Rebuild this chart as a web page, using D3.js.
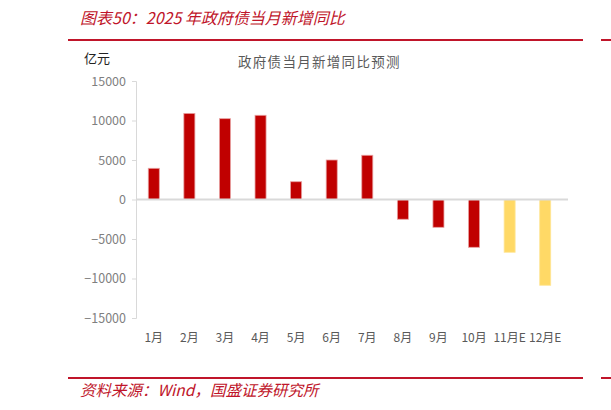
<!DOCTYPE html>
<html>
<head>
<meta charset="utf-8">
<script src="https://cdn.jsdelivr.net/npm/d3@7"></script>
<style>
	body { margin: 0; background: #fff; }
	svg text { font-family: "Noto Sans CJK SC", "Liberation Sans", sans-serif; }
</style>
</head>
<body>
<svg width="611" height="410"></svg>
<script>
// data
let months = ["1月","2月","3月","4月","5月","6月","7月","8月","9月","10月","11月E","12月E"];
let values = [3950, 10900, 10230, 10660, 2250, 5000, 5600, -2500, -3520, -6050, -6680, -10860];
let forecast = [false,false,false,false,false,false,false,false,false,false,true,true];
let yTicks = [15000, 10000, 5000, 0, -5000, -10000, -15000];

let svg = d3.select("svg");
let red = "#c00000", yellow = "#ffd966", grey = "#7f7f7f";

// header
svg.append("text")
	.attr("x", 80).attr("y", 24)
	.attr("font-size", 16).attr("font-style", "italic")
	.attr("fill", "#c0152a")
	.text("图表50：2025 年政府债当月新增同比");
svg.append("rect").attr("x", 68).attr("y", 39).attr("width", 515).attr("height", 2).attr("fill", "#c0152a");
svg.append("rect").attr("x", 601).attr("y", 39).attr("width", 10).attr("height", 2).attr("fill", "#c0152a");

// footer
svg.append("rect").attr("x", 68).attr("y", 377).attr("width", 515).attr("height", 2).attr("fill", "#c0152a");
svg.append("rect").attr("x", 601).attr("y", 377).attr("width", 10).attr("height", 2).attr("fill", "#c0152a");
svg.append("text")
	.attr("x", 80).attr("y", 396)
	.attr("font-size", 15.5).attr("font-style", "italic")
	.attr("fill", "#c0152a")
	.text("资料来源：Wind，国盛证券研究所");

// chart
let x = d3.scaleBand().domain(months).range([136, 563]).paddingInner(0.69).paddingOuter(0.345);
let y = d3.scaleLinear().domain([-15000, 15000]).range([318, 81]);

svg.append("text")
	.attr("x", 84).attr("y", 63)
	.attr("font-size", 13).attr("fill", "#222")
	.text("亿元");

// legend / title text
svg.append("text")
	.attr("x", 238).attr("y", 67)
	.attr("font-size", 13.5).attr("fill", "#595959")
	.attr("letter-spacing", 1.3)
	.text("政府债当月新增同比预测");

let yAxis = svg.append("g")
	.attr("transform", "translate(136,0)")
	.call(d3.axisLeft(y).tickValues(yTicks).tickSize(4).tickPadding(6).tickFormat(d3.format("d")));
yAxis.select(".domain").attr("stroke", "#d9d9d9");
yAxis.selectAll(".tick line").attr("stroke", "#d9d9d9");
yAxis.selectAll(".tick text")
	.attr("fill", grey).attr("font-size", 12.5)
	.attr("font-family", "Liberation Sans, sans-serif");

svg.append("g").selectAll("rect")
	.data(values)
	.enter().append("rect")
	.attr("x", (d, i) => x(months[i]))
	.attr("width", x.bandwidth())
	.attr("y", d => y(Math.max(d, 0)))
	.attr("height", d => Math.abs(y(d) - y(0)))
	.attr("fill", (d, i) => forecast[i] ? yellow : red)
	.attr("stroke", (d, i) => forecast[i] ? "#ffe699" : "#e8a0a0")
	.attr("stroke-width", 0.8);

// zero line
svg.append("line")
	.attr("x1", 136).attr("x2", 568)
	.attr("y1", y(0)).attr("y2", y(0))
	.attr("stroke", "#d9d9d9").attr("stroke-width", 2);

svg.append("g").selectAll("text")
	.data(months)
	.enter().append("text")
	.attr("x", d => x(d) + x.bandwidth() / 2)
	.attr("y", 342)
	.attr("text-anchor", "middle")
	.attr("font-size", 12).attr("fill", "#595959")
	.text(d => d);
</script>
</body>
</html>
